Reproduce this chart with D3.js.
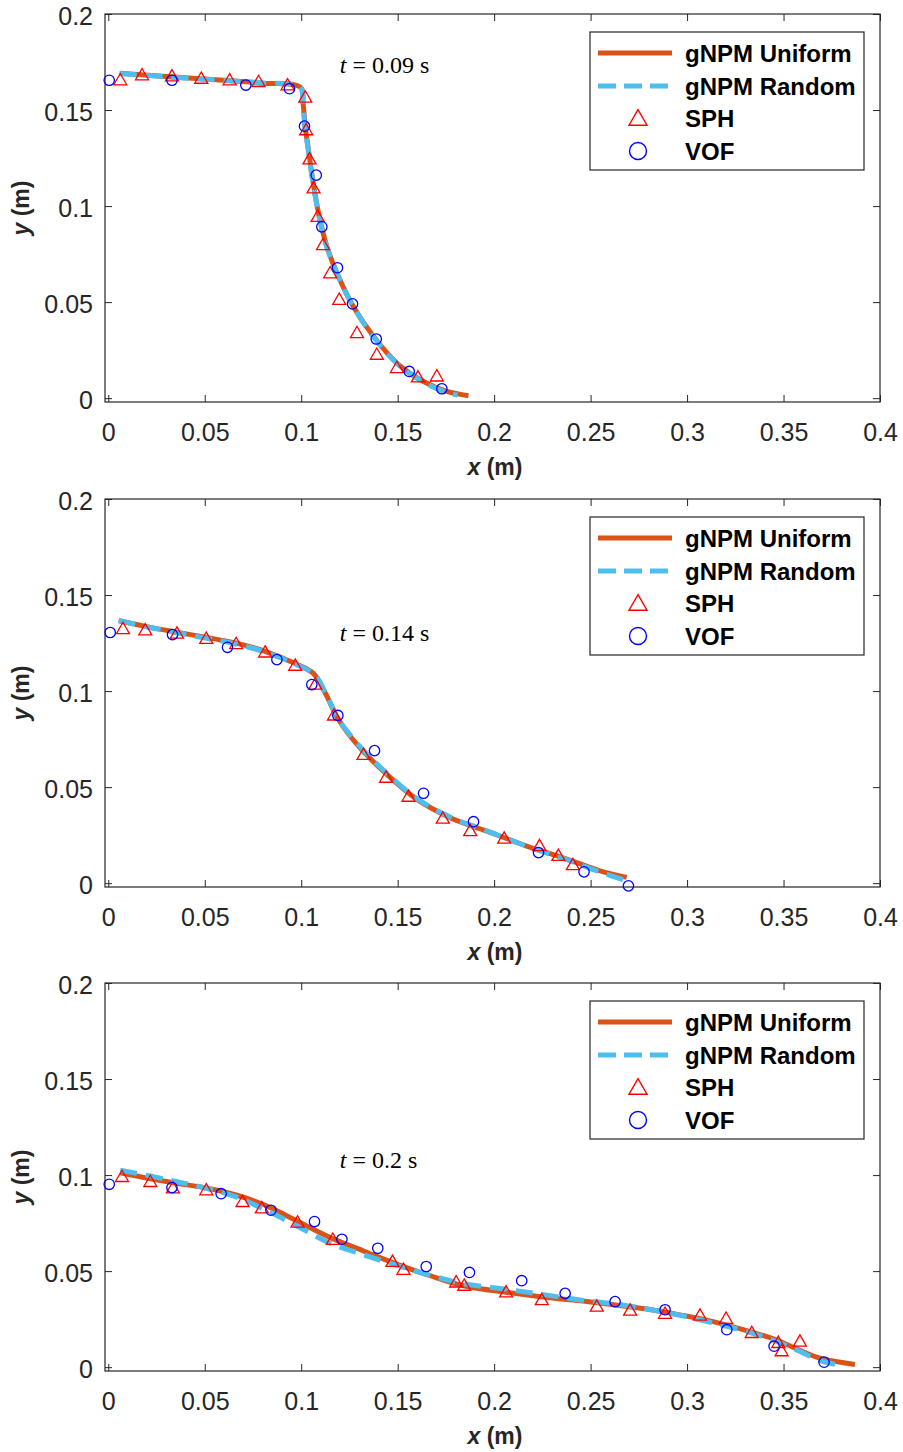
<!DOCTYPE html>
<html><head><meta charset="utf-8">
<script src="https://cdn.jsdelivr.net/npm/d3@7"></script>
<style>
html,body{margin:0;padding:0;background:#fff;}
svg{display:block;}
</style></head>
<body>
<svg id="chart" width="903" height="1452"></svg>
<script>
// ---------- Data ----------
const panelTimes = ["0.09", "0.14", "0.2"];
const xTicks = [0, 0.05, 0.1, 0.15, 0.2, 0.25, 0.3, 0.35, 0.4];
const yTicks = [0, 0.05, 0.1, 0.15, 0.2];
const legendLabels = ["gNPM Uniform", "gNPM Random", "SPH", "VOF"];

// t = 0.09 s
const uniform1 = [[0.0059,0.1692],[0.03,0.1675],[0.06,0.1655],[0.08,0.1640],[0.0998,0.1617],[0.101,0.1533],[0.1021,0.141],[0.1038,0.129],[0.106,0.1135],[0.109,0.0962],[0.1133,0.0789],[0.1193,0.0633],[0.127,0.0477],[0.1375,0.0321],[0.1496,0.0183],[0.1634,0.0087],[0.1755,0.0035],[0.1867,0.0013]];
const random1 = [[0.0059,0.1690],[0.03,0.1673],[0.06,0.1654],[0.08,0.1641],[0.0995,0.1620],[0.1008,0.1540],[0.1019,0.1415],[0.1036,0.1295],[0.1058,0.1140],[0.1089,0.0965],[0.1131,0.0792],[0.1192,0.0635],[0.1268,0.0480],[0.1372,0.0322],[0.1494,0.0183],[0.1630,0.0085],[0.1740,0.0035],[0.1810,0.0015]];
const sph1 = [[0.0062,0.1655],[0.0175,0.1681],[0.033,0.1675],[0.0482,0.1663],[0.0629,0.1655],[0.0779,0.1646],[0.0929,0.1629],[0.1021,0.1565],[0.1026,0.1395],[0.1043,0.1243],[0.1064,0.1092],[0.1085,0.0944],[0.1113,0.0797],[0.115,0.065],[0.1197,0.0512],[0.1289,0.0339],[0.1392,0.0226],[0.1496,0.0157],[0.1605,0.0108],[0.1703,0.0113]];
const vof1 = [[0.0005,0.1655],[0.033,0.1655],[0.0713,0.163],[0.0939,0.1611],[0.1017,0.1416],[0.1078,0.1161],[0.1107,0.0892],[0.1188,0.0679],[0.1266,0.0491],[0.1389,0.0308],[0.156,0.0139],[0.1729,0.0049]];

// t = 0.14 s
const uniform2 = [[0.0054,0.1366],[0.0192,0.1337],[0.0347,0.1308],[0.0503,0.1280],[0.0658,0.1251],[0.0813,0.1207],[0.0969,0.1143],[0.1064,0.1091],[0.1124,0.0991],[0.1193,0.0852],[0.1297,0.0713],[0.1444,0.0566],[0.16,0.0436],[0.1772,0.0341],[0.1962,0.0271],[0.2169,0.0193],[0.2377,0.0125],[0.2549,0.0064],[0.2687,0.003]];
const random2 = [[0.0054,0.1368],[0.0192,0.1336],[0.0347,0.1305],[0.0503,0.1276],[0.0658,0.1246],[0.0813,0.1203],[0.0969,0.1141],[0.1070,0.1085],[0.1128,0.0985],[0.1196,0.0850],[0.1300,0.0716],[0.1446,0.0570],[0.16,0.0440],[0.1772,0.0344],[0.1962,0.0272],[0.2169,0.0192],[0.2377,0.0122],[0.2549,0.0058],[0.2687,0.0012]];
const sph2 = [[0.0076,0.1323],[0.0192,0.1316],[0.0356,0.1299],[0.0508,0.1272],[0.0663,0.1245],[0.0813,0.1201],[0.0969,0.1132],[0.1073,0.1034],[0.117,0.0873],[0.1323,0.0668],[0.144,0.0549],[0.1556,0.045],[0.1734,0.0336],[0.1876,0.0271],[0.2052,0.0232],[0.2235,0.0193],[0.2333,0.0142],[0.2408,0.0094]];
const vof2 = [[0.001,0.1305],[0.0333,0.1294],[0.0618,0.1228],[0.0874,0.1164],[0.1055,0.1034],[0.119,0.0873],[0.138,0.069],[0.1634,0.0468],[0.1893,0.032],[0.223,0.0159],[0.2466,0.0059],[0.2696,-0.0014]];

// t = 0.2 s
const uniform3 = [[0.0062,0.1012],[0.0218,0.0981],[0.0356,0.0957],[0.0494,0.0935],[0.0667,0.0895],[0.0822,0.0839],[0.0978,0.0761],[0.115,0.0675],[0.1323,0.0605],[0.1496,0.0536],[0.1668,0.0476],[0.1841,0.0424],[0.2066,0.0389],[0.2273,0.0363],[0.2446,0.0346],[0.2618,0.0325],[0.2791,0.0303],[0.2964,0.0272],[0.3136,0.0237],[0.3309,0.019],[0.3447,0.0147],[0.3568,0.0095],[0.3689,0.0047],[0.387,0.0014]];
const random3 = [[0.0062,0.1025],[0.0218,0.0995],[0.0356,0.0965],[0.0494,0.0935],[0.0667,0.0885],[0.0822,0.0815],[0.0978,0.0735],[0.115,0.0645],[0.1323,0.0585],[0.1496,0.053],[0.1668,0.0478],[0.1841,0.0435],[0.2066,0.0405],[0.2273,0.0375],[0.2446,0.035],[0.2618,0.033],[0.2791,0.0303],[0.2964,0.027],[0.3136,0.023],[0.3309,0.0185],[0.3447,0.014],[0.3568,0.009],[0.3689,0.0035],[0.379,0.001]];
const sph3 = [[0.0071,0.099],[0.0218,0.0964],[0.0335,0.0931],[0.0508,0.0921],[0.0696,0.086],[0.0796,0.0827],[0.0981,0.0753],[0.1164,0.0663],[0.1473,0.0548],[0.153,0.0507],[0.1803,0.0441],[0.1845,0.0424],[0.2062,0.0389],[0.2247,0.0349],[0.2532,0.0315],[0.2705,0.0294],[0.2886,0.0278],[0.3067,0.0268],[0.3202,0.0252],[0.3335,0.0178],[0.3473,0.0126],[0.349,0.0083],[0.3585,0.0133]];
const vof3 = [[0.0005,0.0952],[0.033,0.0935],[0.0585,0.0903],[0.0843,0.0817],[0.1069,0.0758],[0.1211,0.0666],[0.1397,0.0619],[0.1648,0.0524],[0.1872,0.0493],[0.2143,0.045],[0.2368,0.0384],[0.2627,0.0341],[0.2886,0.0299],[0.3206,0.0195],[0.3451,0.0109],[0.371,0.0026]];

// annotation positions (data units)
const annotX = [0.12, 0.12, 0.12];
const annotY = [0.1695, 0.1262, 0.1037];

const panels = [
  {uniform: uniform1, random: random1, sph: sph1, vof: vof1},
  {uniform: uniform2, random: random2, sph: sph2, vof: vof2},
  {uniform: uniform3, random: random3, sph: sph3, vof: vof3}
];

// ---------- Layout ----------
const svg = d3.select("#chart");
const left = 105, right = 880;
const tops = [14, 499, 983];
const plotH = 388;
const axisCol = "#262626";
const orange = "#D95319", blue = "#4DBEEE";
const tickFont = "'Liberation Sans', Arial, sans-serif";

const x = d3.scaleLinear().domain([-0.0017, 0.4]).range([left, right]);

const triPath = (s) => {
  const h = s * 0.87;
  return `M0,${-h*0.6}L${s/2},${h*0.4}L${-s/2},${h*0.4}Z`;
};

panels.forEach((p, i) => {
  const top = tops[i], bottom = top + plotH;
  const y = d3.scaleLinear().domain([-0.002, 0.2]).range([bottom, top]);
  const g = svg.append("g");

  const clipId = "clip" + i;
  svg.append("clipPath").attr("id", clipId).append("rect")
    .attr("x", left).attr("y", top).attr("width", right - left).attr("height", plotH);

  const fmt = d => d === 0 ? "0" : d3.format("")(+d.toFixed(2));
  const bx = g.append("g").attr("transform", `translate(0,${bottom})`)
    .call(d3.axisBottom(x).tickValues(xTicks).tickSizeInner(-7).tickSizeOuter(0).tickPadding(21).tickFormat(fmt));
  const tx = g.append("g").attr("transform", `translate(0,${top})`)
    .call(d3.axisTop(x).tickValues(xTicks).tickSizeInner(-7).tickSizeOuter(0).tickFormat(""));
  const ly = g.append("g").attr("transform", `translate(${left},0)`)
    .call(d3.axisLeft(y).tickValues(yTicks).tickSizeInner(-7).tickSizeOuter(0).tickPadding(12).tickFormat(fmt));
  const ry = g.append("g").attr("transform", `translate(${right},0)`)
    .call(d3.axisRight(y).tickValues(yTicks).tickSizeInner(-7).tickSizeOuter(0).tickFormat(""));
  [bx, tx, ly, ry].forEach(a => {
    a.selectAll(".domain").remove();
    a.selectAll("line").attr("stroke", axisCol).attr("stroke-width", 1);
    a.selectAll("text").attr("fill", axisCol).style("font-family", tickFont).style("font-size", "25px");
  });
  ly.selectAll("text").attr("dy", "0.4em");
  g.append("rect").attr("x", left).attr("y", top).attr("width", right - left).attr("height", plotH)
    .attr("fill", "none").attr("stroke", axisCol).attr("stroke-width", 1.2);

  // axis titles
  const xt = g.append("text").attr("x", 495).attr("y", bottom + 73).attr("text-anchor", "middle")
    .style("font-family", tickFont).style("font-size", "23px").style("font-weight", "bold").attr("fill", axisCol);
  xt.append("tspan").style("font-style", "italic").text("x");
  xt.append("tspan").text(" (m)");
  const yt = g.append("text").attr("transform", `translate(29,${(top + bottom) / 2}) rotate(-90)`)
    .attr("text-anchor", "middle")
    .style("font-family", tickFont).style("font-size", "23px").style("font-weight", "bold").attr("fill", axisCol);
  yt.append("tspan").style("font-style", "italic").text("y");
  yt.append("tspan").text(" (m)");

  // lines
  const line = d3.line().x(d => x(d[0])).y(d => y(d[1])).curve(d3.curveCatmullRom.alpha(0.5));
  const lg = g.append("g").attr("clip-path", `url(#${clipId})`);
  lg.append("path").attr("d", line(p.uniform)).attr("fill", "none").attr("stroke", orange)
    .attr("stroke-width", 5);
  lg.append("path").attr("d", line(p.random)).attr("fill", "none").attr("stroke", blue)
    .attr("stroke-width", 5).attr("stroke-dasharray", "17,9");

  // markers
  lg.selectAll(".tri").data(p.sph).join("path").attr("class", "tri")
    .attr("transform", d => `translate(${x(d[0])},${y(d[1])})`)
    .attr("d", triPath(13)).attr("fill", "none").attr("stroke", "#FF0000").attr("stroke-width", 1.3);
  g.selectAll(".cir").data(p.vof).join("circle").attr("class", "cir")
    .attr("cx", d => x(d[0])).attr("cy", d => y(d[1])).attr("r", 5.2)
    .attr("fill", "none").attr("stroke", "#0000FF").attr("stroke-width", 1.3);

  // annotation
  const an = g.append("text").attr("x", x(annotX[i])).attr("y", y(annotY[i]))
    .style("font-family", "'Liberation Serif', 'Times New Roman', serif").style("font-size", "24px").attr("fill", "#000");
  an.append("tspan").style("font-style", "italic").text("t");
  an.append("tspan").text(" = " + panelTimes[i] + " s");

  // legend
  const lx = 590, ly0 = top + 18, lw = 274, lh = 138;
  const leg = g.append("g");
  leg.append("rect").attr("x", lx).attr("y", ly0).attr("width", lw).attr("height", lh)
    .attr("fill", "#fff").attr("stroke", axisCol).attr("stroke-width", 1.2);
  const rows = [21, 54, 86, 119];
  leg.append("line").attr("x1", 598).attr("x2", 672).attr("y1", ly0 + rows[0]).attr("y2", ly0 + rows[0])
    .attr("stroke", orange).attr("stroke-width", 5);
  leg.append("line").attr("x1", 598).attr("x2", 672).attr("y1", ly0 + rows[1]).attr("y2", ly0 + rows[1])
    .attr("stroke", blue).attr("stroke-width", 5).attr("stroke-dasharray", "18,8");
  leg.append("path").attr("transform", `translate(638,${ly0 + rows[2] + 1})`).attr("d", triPath(18))
    .attr("fill", "none").attr("stroke", "#FF0000").attr("stroke-width", 1.4);
  leg.append("circle").attr("cx", 638).attr("cy", ly0 + rows[3]).attr("r", 8.5)
    .attr("fill", "none").attr("stroke", "#0000FF").attr("stroke-width", 1.4);
  legendLabels.forEach((t, k) => {
    leg.append("text").attr("x", 685).attr("y", ly0 + rows[k]).attr("dy", "0.36em")
      .style("font-family", tickFont).style("font-size", "24px").style("font-weight", "bold")
      .attr("fill", "#000").text(t);
  });
});
</script>
</body></html>
